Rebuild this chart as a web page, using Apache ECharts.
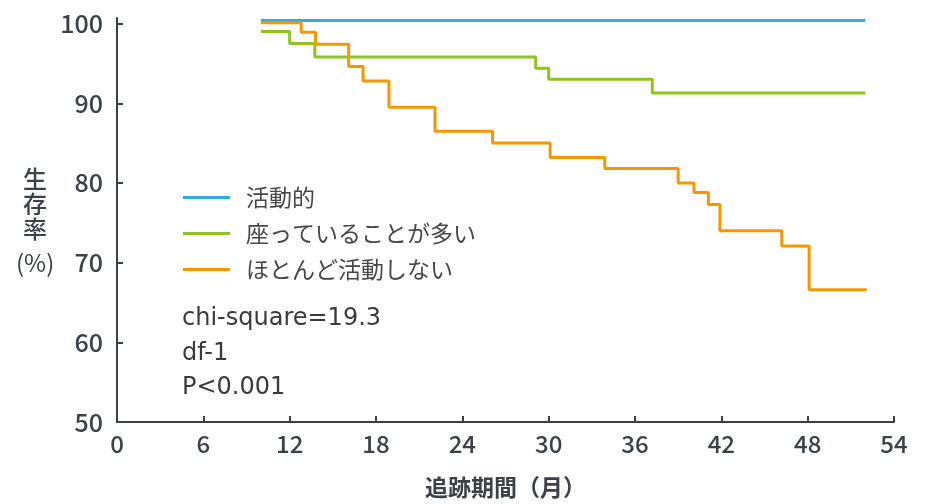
<!DOCTYPE html>
<html>
<head>
<meta charset="utf-8">
<script src="https://cdn.jsdelivr.net/npm/echarts@6/dist/echarts.min.js"></script>
<style>
  html, body { margin: 0; padding: 0; background: #fff; }
  #chart { width: 930px; height: 504px; }
</style>
</head>
<body>
<div id="chart"></div>
<script>
// 系列名
const seriesNames = ['活動的', '座っていることが多い', 'ほとんど活動しない'];

// 月, 生存率 (その時点での値)
const activeData = [[10, 100.4], [52, 100.4]];
const sittingData = [
  [10, 99.0], [12.0, 97.5], [13.75, 95.8], [29.1, 94.4], [30.0, 93.0],
  [37.2, 91.3], [52, 91.3]
];
const inactiveData = [
  [10, 100.1], [12.8, 98.9], [13.8, 97.4], [16.1, 94.6], [17.1, 92.8],
  [18.9, 89.5], [22.1, 86.5], [26.1, 85.0], [30.1, 83.2], [33.9, 81.8],
  [39.0, 80.0], [40.1, 78.8], [41.1, 77.3], [41.9, 74.0], [46.2, 72.1],
  [48.1, 66.6], [52.1, 66.6]
];

// 目盛り
const yTicks = [50, 60, 70, 80, 90, 100];
const statLines = ['chi-square=19.3', 'df-1', 'P<0.001'];
const colors = ['#36a9e1', '#8fc31f', '#f39800'];

const font = '"Noto Sans CJK JP", "Noto Sans", sans-serif';
const axisColor = '#3c4147';

var myChart = echarts.init(document.getElementById('chart'), null, { renderer: 'canvas' });

function stepSeries(name, data, color) {
  return {
    name: name,
    type: 'line',
    step: 'end',
    data: data,
    symbol: 'none',
    clip: false,
    color: color,
    lineStyle: { width: 3, color: color },
    animation: false
  };
}

var option = {
  backgroundColor: '#fff',
  textStyle: { fontFamily: font },
  grid: { left: 117, right: 36, top: 18, bottom: 75 },
  legend: {
    orient: 'vertical',
    left: 178,
    top: 181,
    itemWidth: 47,
    itemHeight: 3,
    itemGap: 13,
    icon: 'rect',
    data: seriesNames,
    textStyle: { fontFamily: font, fontSize: 23, lineHeight: 23, color: '#484848', padding: [0, 0, 0, 11] }
  },
  xAxis: {
    type: 'value',
    min: 0,
    max: 54,
    interval: 6,
    name: '追跡期間（月）',
    nameLocation: 'middle',
    nameGap: 54,
    nameTextStyle: { fontSize: 23, color: axisColor, fontFamily: font, fontWeight: 'bold' },
    axisLine: { show: true, lineStyle: { color: axisColor, width: 2 } },
    axisTick: { show: true, inside: true, length: 6, lineStyle: { color: axisColor, width: 2 } },
    axisLabel: { fontSize: 24, color: axisColor, margin: 10, fontFamily: font, fontWeight: 500 },
    splitLine: { show: false }
  },
  yAxis: {
    type: 'value',
    min: 50,
    max: 100.7,
    axisLine: { show: true, lineStyle: { color: axisColor, width: 2 } },
    axisTick: { show: true, inside: true, length: 6, customValues: yTicks, lineStyle: { color: axisColor, width: 2 } },
    axisLabel: { fontSize: 25, color: axisColor, margin: 14, fontFamily: font, fontWeight: 500, customValues: yTicks },
    splitLine: { show: false }
  },
  graphic: [
    {
      type: 'text',
      left: 23,
      top: 166,
      style: {
        text: '生\n存\n率',
        fontSize: 24,
        lineHeight: 25,
        fill: axisColor,
        fontFamily: font,
        fontWeight: 500
      }
    },
    {
      type: 'text',
      left: 16,
      top: 249,
      style: {
        text: '(%)',
        fontSize: 24,
        lineHeight: 28,
        fill: axisColor,
        fontFamily: font
      }
    },
    {
      type: 'text',
      left: 182,
      top: 302,
      style: {
        text: statLines.join('\n'),
        fontSize: 24,
        lineHeight: 34.5,
        fill: '#3a3a3a',
        fontFamily: '"DejaVu Sans", sans-serif'
      }
    }
  ],
  series: [
    stepSeries(seriesNames[0], activeData, colors[0]),
    stepSeries(seriesNames[1], sittingData, colors[1]),
    stepSeries(seriesNames[2], inactiveData, colors[2])
  ]
};

myChart.setOption(option);
window.addEventListener('resize', myChart.resize);
</script>
</body>
</html>
